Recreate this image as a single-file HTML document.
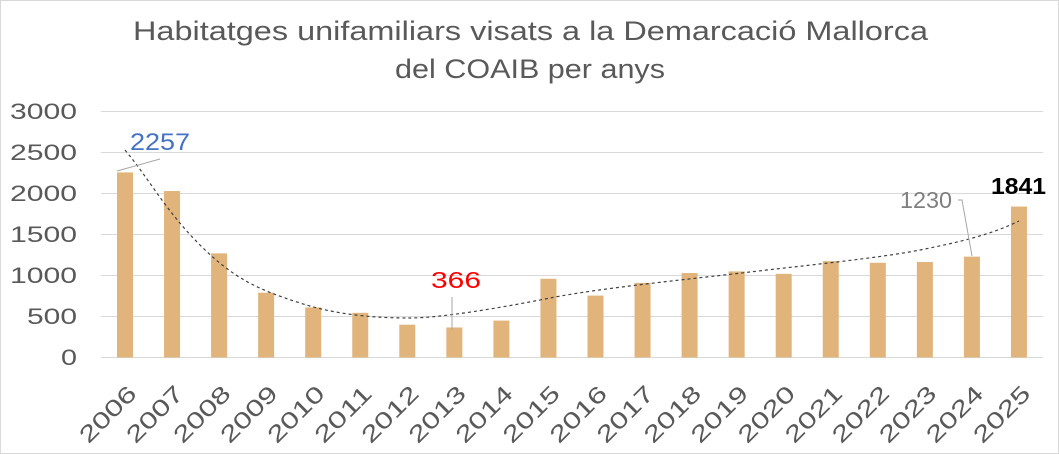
<!DOCTYPE html>
<html><head><meta charset="utf-8"><style>
body{margin:0;background:#fff}
svg{display:block;font-family:"Liberation Sans",sans-serif}
</style></head><body>
<svg width="1059" height="454" viewBox="0 0 1059 454">
<rect x="0.5" y="0.5" width="1058" height="453" fill="#fff" stroke="#d9d9d9"/>
<text x="133" y="40" font-size="27" fill="#595959" textLength="795" lengthAdjust="spacingAndGlyphs">Habitatges unifamiliars visats a la Demarcació Mallorca</text>
<text x="395" y="78" font-size="27" fill="#595959" textLength="270" lengthAdjust="spacingAndGlyphs">del COAIB per anys</text>
<g stroke="#d9d9d9" stroke-width="1">
<line x1="101" x2="1043" y1="111.5" y2="111.5"/>
<line x1="101" x2="1043" y1="152.5" y2="152.5"/>
<line x1="101" x2="1043" y1="193.5" y2="193.5"/>
<line x1="101" x2="1043" y1="234.5" y2="234.5"/>
<line x1="101" x2="1043" y1="275.5" y2="275.5"/>
<line x1="101" x2="1043" y1="316.5" y2="316.5"/>
<line x1="101" x2="1043" y1="357.5" y2="357.5"/>
</g>
<g font-size="22" fill="#595959">
<text x="10" y="119" textLength="67" lengthAdjust="spacingAndGlyphs">3000</text>
<text x="10" y="160" textLength="67" lengthAdjust="spacingAndGlyphs">2500</text>
<text x="10" y="201" textLength="67" lengthAdjust="spacingAndGlyphs">2000</text>
<text x="10" y="242" textLength="67" lengthAdjust="spacingAndGlyphs">1500</text>
<text x="10" y="283" textLength="67" lengthAdjust="spacingAndGlyphs">1000</text>
<text x="27" y="324" textLength="50" lengthAdjust="spacingAndGlyphs">500</text>
<text x="61" y="365" textLength="16" lengthAdjust="spacingAndGlyphs">0</text>
</g>
<g fill="#E0B47A" id="bars"></g>
<g id="labels" font-size="23" fill="#595959"></g>
<path d="M125,150 C150,180 165,210 200,245 S260,290 300,303 S380,318 410,318 S500,308 550,298 S700,278 750,272 S880,258 920,250 S990,235 1019,221" fill="none" stroke="#404040" stroke-width="1.2" stroke-dasharray="3,3"/>
<polyline points="117,171 160,159" fill="none" stroke="#a6a6a6"/>
<text x="130" y="150" font-size="24" fill="#4472C4" textLength="60" lengthAdjust="spacingAndGlyphs">2257</text>
<polyline points="452,297 452,330" fill="none" stroke="#a6a6a6"/>
<text x="431" y="288" font-size="23" fill="#ff0000" textLength="50" lengthAdjust="spacingAndGlyphs">366</text>
<polyline points="958,200 962,200 972,256" fill="none" stroke="#a6a6a6"/>
<text x="900" y="208" font-size="23" fill="#7f7f7f" textLength="52" lengthAdjust="spacingAndGlyphs">1230</text>
<text x="991" y="194" font-size="23" font-weight="bold" fill="#000" textLength="55" lengthAdjust="spacingAndGlyphs">1841</text>
<script>
var v=[2257,2030,1270,790,610,545,400,366,450,960,755,910,1030,1050,1020,1175,1155,1165,1230,1841];
var b=document.getElementById('bars'),l=document.getElementById('labels'),ns='http://www.w3.org/2000/svg';
v.forEach(function(d,i){var c=125+i*47.05,h=d*0.082;
var r=document.createElementNS(ns,'rect');r.setAttribute('x',c-8);r.setAttribute('y',357.5-h);r.setAttribute('width',16);r.setAttribute('height',h);b.appendChild(r);
var t=document.createElementNS(ns,'text');var x=c+13,y=395;t.setAttribute('x',x);t.setAttribute('y',y);t.setAttribute('text-anchor','end');t.setAttribute('textLength',70);t.setAttribute('lengthAdjust','spacingAndGlyphs');t.setAttribute('transform','rotate(-45 '+x+' '+y+')');t.textContent=2006+i;l.appendChild(t);});
</script>
</svg>
</body></html>
